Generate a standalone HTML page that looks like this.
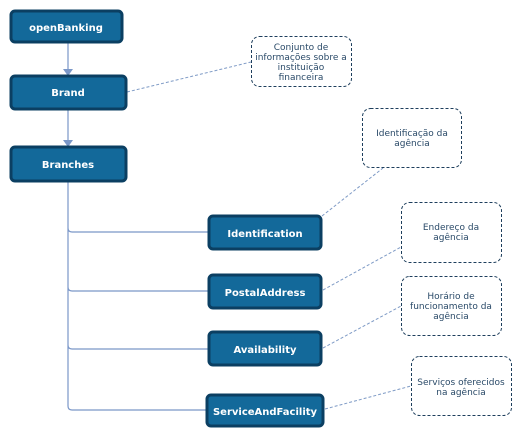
<!DOCTYPE html>
<html><head><meta charset="utf-8"><style>
body{margin:0;background:#fff;}
svg{display:block;}
.b{fill:#13699a;stroke:#0b3f62;stroke-width:3;}
.t{fill:#fff;font:bold 10px "DejaVu Sans","Liberation Sans",sans-serif;text-anchor:middle;}
.n{fill:#fff;stroke:#1d3e5c;stroke-width:1;stroke-dasharray:3,2;}
.nt{fill:#2a4a68;font:9px "DejaVu Sans","Liberation Sans",sans-serif;text-anchor:middle;}
.d{stroke:#7f9bc6;stroke-width:1;stroke-dasharray:3,2;fill:none;}
.l{stroke:#7a97c8;stroke-width:1.2;fill:none;}
</style></head><body>
<svg width="522" height="437" viewBox="0 0 522 437">
<path class="l" d="M68 42V72M68 109V143"/>
<path d="M63 69L68 76L73 69Z M63 140L68 147L73 140Z" fill="#7a97c8"/>
<path class="l" d="M68 181V228Q68 232 72 232H209M68 228V287Q68 291 72 291H209M68 287V345Q68 349 72 349H209M68 345V406Q68 410 72 410H207"/>
<path class="d" d="M127 92L251 62M322 216L383 168M323 290L401 247M323 348L401 306M325 409L411 386"/>
<rect class="b" x="11" y="11" width="111" height="31" rx="4"/><text class="t" x="66" y="31">openBanking</text>
<rect class="b" x="11" y="76" width="115" height="33" rx="4"/><text class="t" x="68" y="96">Brand</text>
<rect class="b" x="11" y="147" width="115" height="34" rx="4"/><text class="t" x="68" y="168">Branches</text>
<rect class="b" x="209" y="216" width="112" height="33" rx="4"/><text class="t" x="265" y="237">Identification</text>
<rect class="b" x="209" y="275" width="112" height="33" rx="4"/><text class="t" x="265" y="296">PostalAddress</text>
<rect class="b" x="209" y="332" width="112" height="33" rx="4"/><text class="t" x="265" y="353">Availability</text>
<rect class="b" x="207" y="395" width="116" height="31" rx="4"/><text class="t" x="265" y="415">ServiceAndFacility</text>
<rect class="n" x="251.5" y="36.5" width="100" height="50" rx="8"/>
<text class="nt" x="301" y="50">Conjunto de</text><text class="nt" x="301" y="60">informações sobre a</text><text class="nt" x="301" y="70">instituição</text><text class="nt" x="301" y="80">financeira</text>
<rect class="n" x="362.5" y="108.5" width="99" height="59" rx="8"/>
<text class="nt" x="412" y="136">Identificação da</text><text class="nt" x="412" y="146">agência</text>
<rect class="n" x="401.5" y="202.5" width="100" height="60" rx="8"/>
<text class="nt" x="451" y="230">Endereço da</text><text class="nt" x="451" y="240">agência</text>
<rect class="n" x="401.5" y="276.5" width="100" height="59" rx="8"/>
<text class="nt" x="451" y="299">Horário de</text><text class="nt" x="451" y="309">funcionamento da</text><text class="nt" x="451" y="319">agência</text>
<rect class="n" x="411.5" y="356.5" width="100" height="59" rx="8"/>
<text class="nt" x="461" y="385">Serviços oferecidos</text><text class="nt" x="461" y="395">na agência</text>
</svg>
</body></html>
